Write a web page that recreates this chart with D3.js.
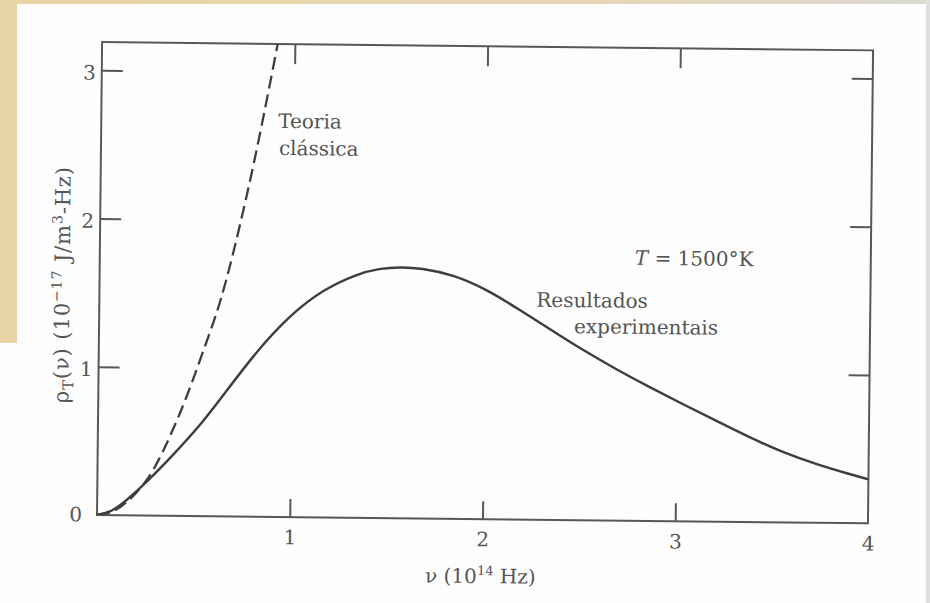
<!DOCTYPE html>
<html>
<head>
<meta charset="utf-8">
<script src="https://cdn.jsdelivr.net/npm/d3@7"></script>
<style>
  html, body { margin: 0; padding: 0; background: #fff; }
  svg { display: block; }
  text { font-family: "DejaVu Serif", "Liberation Serif", serif; fill: #555; }
</style>
</head>
<body>
<svg id="chart" width="930" height="603"></svg>
<script>
// ---- data ----
const expNu  = [0, 0.07, 0.136, 0.256, 0.385, 0.548, 0.65, 0.821, 0.992, 1.164, 1.337, 1.45, 1.561, 1.665, 1.838, 2.012, 2.186, 2.36, 2.515, 2.689, 2.863, 3.037, 3.211, 3.384, 3.558, 3.731, 3.905, 4.0];
const expRho = [0, 0.02, 0.081, 0.225, 0.40, 0.64, 0.82, 1.12, 1.365, 1.54, 1.645, 1.683, 1.694, 1.689, 1.646, 1.548, 1.41, 1.27, 1.145, 1.018, 0.9, 0.787, 0.678, 0.569, 0.470, 0.394, 0.329, 0.297];
const clsNu  = [0, 0.1, 0.2, 0.256, 0.417, 0.544, 0.629, 0.754, 0.912];
const clsRho = [0, 0.038, 0.15, 0.24, 0.669, 1.121, 1.459, 2.136, 3.195];
const xTickValues = [1, 2, 3, 4];
const yTickValues = [0, 1, 2, 3];
const xDomain = [0, 4];
const yDomain = [0, 3.19];

// ---- layout ----
const svg = d3.select("#chart");
const W = 930, H = 603;
const pLeft = 97, pRight = 868, pTop = 42, pBottom = 515;
const tilt = 0.62; // the scanned page is slightly rotated

// paper background and scan borders
const defs = svg.append("defs");
const grad = defs.append("linearGradient").attr("id", "topband");
grad.append("stop").attr("offset", "0%").attr("stop-color", "#e9d4a6");
grad.append("stop").attr("offset", "60%").attr("stop-color", "#e6d6b2");
grad.append("stop").attr("offset", "100%").attr("stop-color", "#dcdad4");
svg.append("rect").attr("width", W).attr("height", H).attr("fill", "#fdfdfd");
svg.append("rect").attr("x", 0).attr("y", 0).attr("width", W).attr("height", 4).attr("fill", "url(#topband)");
svg.append("rect").attr("x", 0).attr("y", 0).attr("width", 17).attr("height", 343).attr("fill", "#e9d4a6");
svg.append("rect").attr("x", 926).attr("y", 0).attr("width", 4).attr("height", H).attr("fill", "#dedede");

const x = d3.scaleLinear().domain(xDomain).range([pLeft, pRight]);
const y = d3.scaleLinear().domain(yDomain).range([pBottom, pTop]);

const g = svg.append("g").attr("transform", `rotate(${tilt},${pLeft},${pBottom})`);

defs.append("clipPath").attr("id", "plotclip")
  .append("rect").attr("x", pLeft).attr("y", pTop).attr("width", pRight - pLeft).attr("height", pBottom - pTop);

const axisColor = "#585858";

// axes (inward ticks on all four sides)
const gxb = g.append("g").attr("transform", `translate(0,${pBottom})`)
  .call(d3.axisBottom(x).tickValues(xTickValues).tickSize(-18).tickPadding(13).tickFormat(d3.format("d")));
gxb.selectAll(".tick").filter(d => d === 4).select("line").remove();

const gxt = g.append("g").attr("transform", `translate(0,${pTop})`)
  .call(d3.axisTop(x).tickValues([1, 2, 3]).tickSize(-20).tickFormat(""));

const gyl = g.append("g").attr("transform", `translate(${pLeft},0)`)
  .call(d3.axisLeft(y).tickValues(yTickValues).tickSize(-21).tickPadding(6).tickFormat(d3.format("d")));
gyl.selectAll(".tick").filter(d => d === 0).select("line").remove();
gyl.selectAll(".tick").filter(d => d === 0).select("text").attr("x", -15).attr("dy", "0.3em");
gyl.selectAll(".tick").filter(d => d !== 0).select("text").attr("dy", "0.45em");

const gyr = g.append("g").attr("transform", `translate(${pRight},0)`)
  .call(d3.axisRight(y).tickValues([1, 2, 3]).tickSize(-21).tickFormat(""));

[gxb, gxt, gyl, gyr].forEach(a => {
  a.select(".domain").remove();
  a.selectAll("line").attr("stroke", axisColor).attr("stroke-width", 2);
  a.selectAll("text").attr("font-size", 20).attr("font-family", "DejaVu Serif").attr("fill", "#555");
});

// frame
g.append("rect").attr("x", pLeft).attr("y", pTop).attr("width", pRight - pLeft).attr("height", pBottom - pTop)
  .attr("fill", "none").attr("stroke", axisColor).attr("stroke-width", 2);

// curves
const smoothLine = d3.line().x(d => x(d[0])).y(d => y(d[1])).curve(d3.curveBasis);
const dashLine = d3.line().x(d => x(d[0])).y(d => y(d[1])).curve(d3.curveMonotoneX);
const expData = d3.zip(expNu, expRho);
const clsData = d3.zip(clsNu, clsRho);

const plot = g.append("g").attr("clip-path", "url(#plotclip)");
plot.append("path").datum(clsData).attr("d", dashLine)
  .attr("fill", "none").attr("stroke", "#3e3e3e").attr("stroke-width", 2.3)
  .attr("stroke-dasharray", "13,6");
plot.append("path").datum(expData).attr("d", smoothLine)
  .attr("fill", "none").attr("stroke", "#3e3e3e").attr("stroke-width", 2.4);

// annotations
const ann = g.append("g").attr("font-size", 20);
ann.append("text").attr("x", 274).attr("y", 126).text("Teoria");
ann.append("text").attr("x", 275).attr("y", 153).text("clássica");
const tt = ann.append("text").attr("x", 632).attr("y", 259);
tt.append("tspan").attr("font-style", "italic").text("T");
tt.append("tspan").text(" = 1500°K");
ann.append("text").attr("x", 534).attr("y", 302).text("Resultados");
ann.append("text").attr("x", 572).attr("y", 328).text("experimentais");

// x axis label
const xl = g.append("text").attr("x", 481).attr("y", 579).attr("text-anchor", "middle").attr("font-size", 20);
xl.append("tspan").text("ν (10");
xl.append("tspan").attr("font-size", 13).attr("dy", -8).text("14");
xl.append("tspan").attr("dy", 8).text(" Hz)");

// y axis label
const yl = g.append("text").attr("transform", "translate(67,285) rotate(-90)")
  .attr("text-anchor", "middle").attr("font-size", 21).attr("letter-spacing", 0.9);
yl.append("tspan").text("ρ");
yl.append("tspan").attr("font-size", 15).attr("dy", 5).text("T");
yl.append("tspan").attr("dy", -5).text("(ν) (10");
yl.append("tspan").attr("font-size", 14).attr("dy", -8).text("−17");
yl.append("tspan").attr("dy", 8).text(" J/m");
yl.append("tspan").attr("font-size", 14).attr("dy", -8).text("3");
yl.append("tspan").attr("dy", 8).text("-Hz)");
</script>
</body>
</html>
